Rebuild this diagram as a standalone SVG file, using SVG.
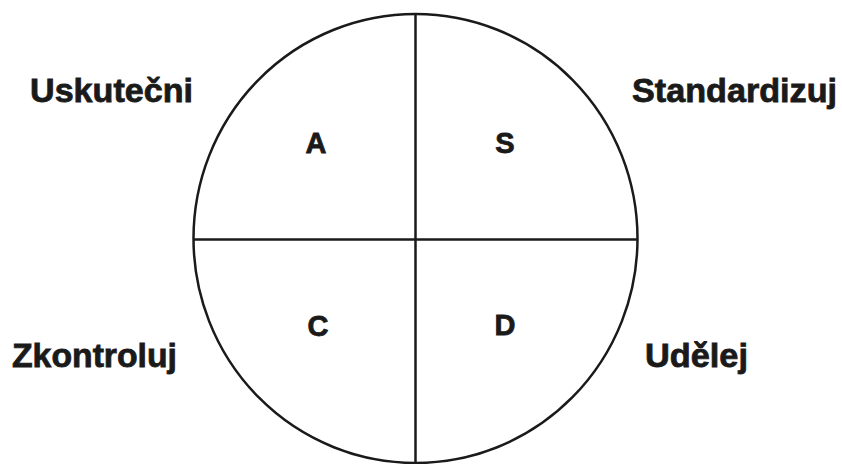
<svg xmlns="http://www.w3.org/2000/svg" width="842" height="464" viewBox="0 0 842 464">
<style>
.ln{fill:none;stroke:#1a1a1a;stroke-width:2.5}
.lbl{font-family:"Liberation Sans",Arial,sans-serif;font-weight:bold;font-size:34px;fill:#1a1a1a;stroke:#1a1a1a;stroke-width:0.8}
.q{font-family:"Liberation Sans",Arial,sans-serif;font-weight:bold;font-size:29px;fill:#1a1a1a;stroke:#1a1a1a;stroke-width:0.8;text-anchor:middle}
</style>
<rect width="842" height="464" fill="#ffffff"/>
<g id="circle">
<ellipse class="ln" cx="415.5" cy="238.5" rx="222" ry="224.5"/>
</g>
<g id="connectors">
<line class="ln" x1="415.5" y1="14" x2="415.5" y2="463"/>
<line class="ln" x1="193.5" y1="239.5" x2="637.5" y2="239.5"/>
</g>
<g id="node-A"><text class="q" x="316" y="153">A</text></g>
<g id="node-S"><text class="q" x="505" y="153">S</text></g>
<g id="node-C"><text class="q" x="318" y="336">C</text></g>
<g id="node-D"><text class="q" x="505" y="335">D</text></g>
<g id="label-uskutecni"><text class="lbl" x="30" y="102" textLength="163" lengthAdjust="spacingAndGlyphs">Uskutečni</text></g>
<g id="label-standardizuj"><text class="lbl" x="632" y="102" textLength="205" lengthAdjust="spacingAndGlyphs">Standardizuj</text></g>
<g id="label-zkontroluj"><text class="lbl" x="12" y="367" textLength="165" lengthAdjust="spacingAndGlyphs">Zkontroluj</text></g>
<g id="label-udelej"><text class="lbl" x="645" y="367" textLength="103" lengthAdjust="spacingAndGlyphs">Udělej</text></g>
</svg>
